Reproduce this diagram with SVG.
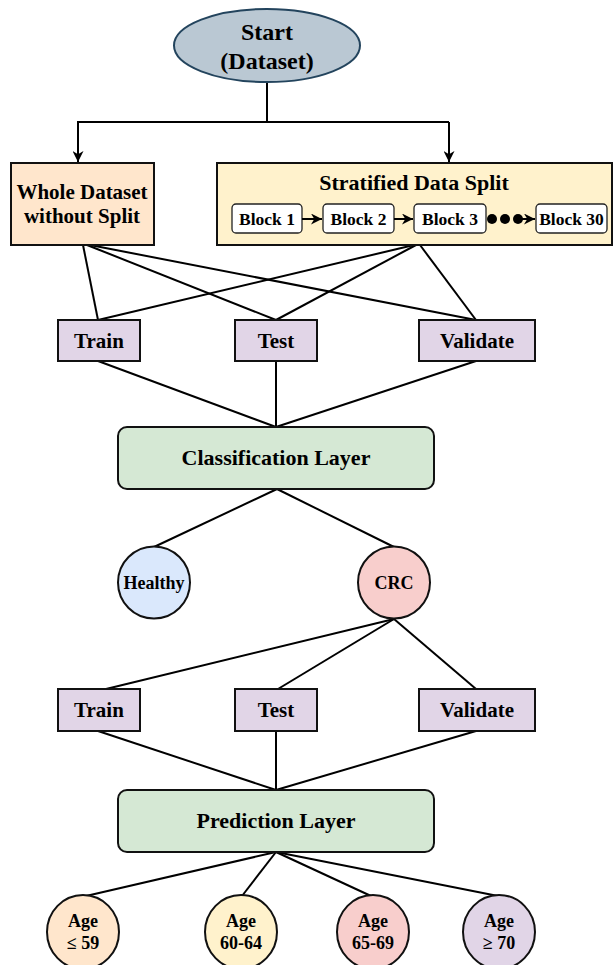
<svg xmlns="http://www.w3.org/2000/svg" width="613" height="965" viewBox="0 0 613 965">
<defs>
<marker id="arrBig" viewBox="0 0 10 10" refX="10" refY="5" markerWidth="11" markerHeight="11" orient="auto" markerUnits="userSpaceOnUse"><path d="M0,0 L10,5 L0,10 L3,5 Z" fill="#000"/></marker>
<marker id="arrSm" viewBox="0 0 10 10" refX="10" refY="5" markerWidth="11" markerHeight="11" orient="auto" markerUnits="userSpaceOnUse"><path d="M0,0 L10,5 L0,10 L3,5 Z" fill="#000"/></marker>
</defs>
<style>
text{font-family:"Liberation Serif","Times New Roman",serif;font-weight:bold;fill:#000;text-anchor:middle}
.ln{stroke:#000;stroke-width:2;fill:none}
.box{stroke:#111;stroke-width:2}
.split{fill:#e1d5e7}
.layer{fill:#d5e8d4}
.blk{fill:#fff;stroke:#222;stroke-width:1.3}
.t21{font-size:21px}
.t22{font-size:22px}
.tb{font-size:17.5px}
.t18{font-size:18px}
</style>
<rect width="613" height="965" fill="#fff"/>
<g id="connectors">
<line class="ln" x1="267" y1="82" x2="267" y2="122"/>
<line class="ln" x1="77" y1="122" x2="449" y2="122"/>
<line class="ln" x1="78" y1="122" x2="78" y2="162" marker-end="url(#arrBig)"/>
<line class="ln" x1="449" y1="122" x2="449" y2="162" marker-end="url(#arrBig)"/>
<line class="ln" x1="83" y1="245" x2="98" y2="320"/>
<line class="ln" x1="87" y1="245" x2="276" y2="320"/>
<line class="ln" x1="90" y1="245" x2="476" y2="320"/>
<line class="ln" x1="414" y1="245" x2="98" y2="320"/>
<line class="ln" x1="416" y1="245" x2="276" y2="320"/>
<line class="ln" x1="420" y1="245" x2="476" y2="320"/>
<line class="ln" x1="98" y1="361" x2="276" y2="427"/>
<line class="ln" x1="276" y1="361" x2="276" y2="427"/>
<line class="ln" x1="476" y1="361" x2="276" y2="427"/>
<line class="ln" x1="277" y1="489" x2="154" y2="547"/>
<line class="ln" x1="277" y1="489" x2="394" y2="547"/>
<line class="ln" x1="394" y1="619" x2="106" y2="689"/>
<line class="ln" x1="394" y1="619" x2="278" y2="689"/>
<line class="ln" x1="394" y1="619" x2="476" y2="689"/>
<line class="ln" x1="98" y1="731" x2="276" y2="790"/>
<line class="ln" x1="276" y1="731" x2="276" y2="790"/>
<line class="ln" x1="476" y1="731" x2="276" y2="790"/>
<line class="ln" x1="276" y1="852" x2="86" y2="896"/>
<line class="ln" x1="276" y1="852" x2="242" y2="896"/>
<line class="ln" x1="276" y1="852" x2="371" y2="896"/>
<line class="ln" x1="276" y1="852" x2="498" y2="896"/>
</g>
<g id="start">
<ellipse cx="267" cy="45.5" rx="93" ry="36.5" fill="#bac8d3" stroke="#23445d" stroke-width="2"/>
<text x="267" y="40" style="font-size:24px">Start</text>
<text x="267" y="69" style="font-size:24px">(Dataset)</text>
</g>
<g id="whole">
<rect class="box" x="11" y="163" width="143" height="82" fill="#ffe6cc"/>
<text class="t21" x="82" y="199">Whole Dataset</text>
<text class="t21" x="82" y="223">without Split</text>
</g>
<g id="stratified">
<rect class="box" x="217" y="163" width="395" height="82" fill="#fff2cc"/>
<text class="t22" x="414" y="190">Stratified Data Split</text>
<g id="block1"><rect class="blk" x="232" y="204" width="70" height="29" rx="4"/><text class="tb" x="267" y="224.5">Block 1</text></g>
<g id="block2"><rect class="blk" x="323" y="204" width="71" height="29" rx="4"/><text class="tb" x="358.5" y="224.5">Block 2</text></g>
<g id="block3"><rect class="blk" x="414" y="204" width="72" height="29" rx="4"/><text class="tb" x="450" y="224.5">Block 3</text></g>
<g id="block30"><rect class="blk" x="536" y="204" width="71" height="29" rx="4"/><text class="tb" x="571.5" y="224.5">Block 30</text></g>
<line class="ln" x1="302" y1="219" x2="322" y2="219" marker-end="url(#arrSm)"/>
<line class="ln" x1="394" y1="219" x2="413" y2="219" marker-end="url(#arrSm)"/>
<circle cx="492" cy="219" r="5" fill="#000"/>
<circle cx="505" cy="219" r="5" fill="#000"/>
<circle cx="518" cy="219" r="5" fill="#000"/>
<line class="ln" x1="520" y1="219" x2="535" y2="219" marker-end="url(#arrSm)"/>
</g>
<g id="train1"><rect class="box split" x="58" y="320" width="82" height="41"/><text class="t21" x="99" y="348">Train</text></g>
<g id="test1"><rect class="box split" x="235" y="320" width="82" height="41"/><text class="t21" x="276" y="348">Test</text></g>
<g id="validate1"><rect class="box split" x="419" y="320" width="116" height="41"/><text class="t21" x="477" y="348">Validate</text></g>
<g id="classification"><rect class="box layer" x="118" y="427" width="316" height="62" rx="9"/><text class="t22" x="276" y="465">Classification Layer</text></g>
<g id="healthy"><circle cx="154" cy="582.5" r="36" fill="#dae8fc" stroke="#111" stroke-width="2"/><text class="t18" x="154" y="589">Healthy</text></g>
<g id="crc"><circle cx="394" cy="582.5" r="36" fill="#f8cecc" stroke="#111" stroke-width="2"/><text class="t18" x="394" y="589">CRC</text></g>
<g id="train2"><rect class="box split" x="58" y="689" width="82" height="42"/><text class="t21" x="99" y="717">Train</text></g>
<g id="test2"><rect class="box split" x="235" y="689" width="82" height="42"/><text class="t21" x="276" y="717">Test</text></g>
<g id="validate2"><rect class="box split" x="419" y="689" width="116" height="42"/><text class="t21" x="477" y="717">Validate</text></g>
<g id="prediction"><rect class="box layer" x="118" y="790" width="316" height="62" rx="9"/><text class="t22" x="276" y="828">Prediction Layer</text></g>
<g id="age1"><ellipse cx="83" cy="932" rx="36" ry="37" fill="#ffe6cc" stroke="#111" stroke-width="2"/><text class="t18" x="83" y="927">Age</text><text class="t18" x="83" y="949">≤ 59</text></g>
<g id="age2"><ellipse cx="241" cy="932" rx="36" ry="37" fill="#fff2cc" stroke="#111" stroke-width="2"/><text class="t18" x="241" y="927">Age</text><text class="t18" x="241" y="949">60-64</text></g>
<g id="age3"><ellipse cx="373" cy="932" rx="36" ry="37" fill="#f8cecc" stroke="#111" stroke-width="2"/><text class="t18" x="373" y="927">Age</text><text class="t18" x="373" y="949">65-69</text></g>
<g id="age4"><ellipse cx="499" cy="932" rx="36" ry="37" fill="#e1d5e7" stroke="#111" stroke-width="2"/><text class="t18" x="499" y="927">Age</text><text class="t18" x="499" y="949">≥ 70</text></g>
</svg>
